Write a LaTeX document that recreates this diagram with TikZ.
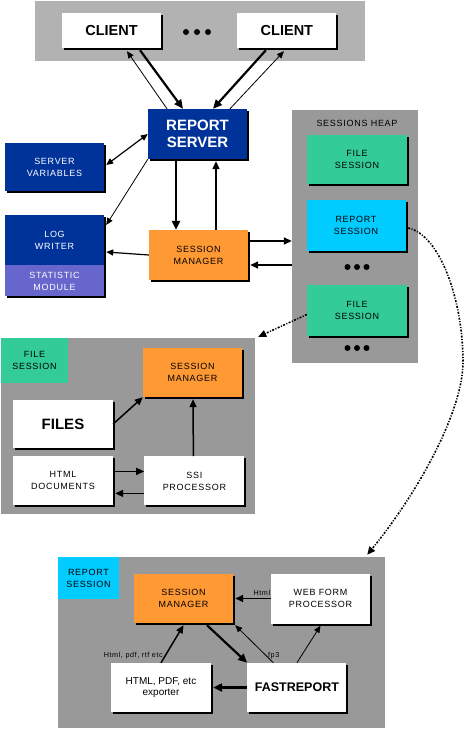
\documentclass[tikz,border=0pt]{standalone}
\usepackage{fontspec}
\setmainfont{Liberation Sans}
\newfontfamily\spacedfont[LetterSpace=8]{Liberation Sans}
\usepackage{tikz}
\usetikzlibrary{arrows.meta}
\usetikzlibrary{positioning}
\usetikzlibrary{shadows}

\definecolor{bargray}{RGB}{178,178,178}
\definecolor{heapgray}{RGB}{153,153,153}
\definecolor{srvblue}{RGB}{0,51,153}
\definecolor{mgrorange}{RGB}{255,153,51}
\definecolor{filegreen}{RGB}{51,204,153}
\definecolor{repcyan}{RGB}{0,204,255}
\definecolor{statpurple}{RGB}{102,102,204}

\tikzset{
  lblfont/.style={font=\spacedfont\fontsize{9}{12}\selectfont},
  bigfont/.style={font=\bfseries\fontsize{14.5}{16.5}\selectfont},
  smalltext/.style={font=\spacedfont\fontsize{7.2}{8}\selectfont, inner sep=2pt},
  tag/.style={lblfont, inner sep=0pt, align=center},
  box/.style={tag, minimum width=99pt, minimum height=49pt,
    drop shadow={shadow xshift=2pt, shadow yshift=-2pt, fill=black, opacity=1}},
  whitebox/.style={box, fill=white},
  bluebox/.style={box, fill=srvblue, text=white},
  panel/.style={fill=heapgray, inner sep=0pt},
  arr/.style={-{Triangle[length=7pt,width=6pt]}, line width=0.8pt},
  medium/.style={-{Triangle[length=8pt,width=7pt]}, line width=1.5pt},
  heavy/.style={-{Triangle[length=9pt,width=8pt]}, line width=2.2pt},
  dbl/.style={{Triangle[length=7pt,width=6pt]}-{Triangle[length=7pt,width=6pt]}, line width=1.2pt},
  linkdots/.style={-{Triangle[length=8pt,width=7pt]}, line width=1.6pt,
    dash pattern=on 2pt off 1.5pt on 1pt off 1.5pt}
}

\begin{document}
\begin{tikzpicture}[x=1pt,y=-1pt]
  \useasboundingbox (0,0) rectangle (465,731);

  % clients
  \node[panel, fill=bargray, minimum width=330pt, minimum height=60pt] (clients) at (200,31) {};
  \node[whitebox, bigfont, minimum height=35pt] (client1) at (111.5,30.5) {CLIENT};
  \node[whitebox, bigfont, minimum height=35pt, right=76pt of client1] (client2) {CLIENT};
  \foreach \dx in {-11,0,11} \fill (197+\dx,32) circle (3pt);

  % server side
  \node[bluebox, font=\bfseries\fontsize{15}{16.5}\selectfont, minimum height=50pt] (server) at (197.5,134) {REPORT\\SERVER};
  \node[bluebox, minimum height=48pt] (servervars) at (54.5,167) {SERVER\\VARIABLES};
  \node[bluebox, minimum height=50pt] (logwriter) at (54.5,240) {LOG\\WRITER};
  \node[box, fill=statpurple, text=white, minimum height=31pt, below=0pt of logwriter] (statmod) {STATISTIC\\MODULE};
  \node[box, fill=mgrorange, minimum height=50pt] (sessman) at (198.5,255) {SESSION\\MANAGER};

  % sessions heap
  \node[panel, minimum width=126pt, minimum height=253pt] (heap) at (355,236.5) {};
  \node[lblfont] (heaptitle) at (357,123) {SESSIONS HEAP};
  \node[box, fill=filegreen, minimum width=100pt] (fs1) at (357,159.5) {FILE\\SESSION};
  \node[box, fill=repcyan, minimum height=51pt] (rs) at (356,225.5) {REPORT\\SESSION};
  \foreach \dx in {-9.5,0,9.5} \fill (357+\dx,267) circle (3pt);
  \node[box, fill=filegreen, minimum width=100pt, minimum height=51pt] (fs2) at (357,310.5) {FILE\\SESSION};
  \foreach \dx in {-9.5,0,9.5} \fill (357+\dx,348) circle (3pt);

  \draw[arr] ([xshift=-30.5pt]server.north) -- ([xshift=15.5pt,yshift=-3pt]client1.south);
  \draw[heavy] ([xshift=28.5pt,yshift=-2pt]client1.south) -- ([xshift=-14.5pt]server.north);
  \draw[heavy] ([xshift=-21pt,yshift=-2pt]client2.south) -- ([xshift=15.5pt]server.north);
  \draw[arr] ([xshift=32.5pt]server.north) -- ([xshift=-3pt,yshift=-3pt]client2.south);
  \draw[dbl] ([xshift=2pt,yshift=2pt]servervars.east) -- (server.west);
  \draw[arr] (server.south west) -- ([xshift=2pt,yshift=15pt]logwriter.east);
  \draw[heavy] ([xshift=-21.5pt,yshift=-2pt]server.south) -- ([xshift=-22.5pt]sessman.north);
  \draw[medium] ([xshift=17.5pt]sessman.north) -- ([xshift=18.5pt,yshift=-2pt]server.south);
  \draw[arr, line width=1.2pt] (sessman.west) -- ([xshift=2pt,yshift=-12pt]logwriter.east);
  \draw[medium] ([xshift=2pt,yshift=14pt]sessman.east) -- ([yshift=14pt]sessman.east -| heap.west);
  \draw[medium] ([yshift=-10pt]sessman.east -| heap.west) -- ([xshift=2pt,yshift=-10pt]sessman.east);

  % file session
  \node[panel, minimum width=254pt, minimum height=176pt] (filepanel) at (128,426) {};
  \node[tag, fill=filegreen, minimum width=67pt, minimum height=45pt] (filelabel) at (34.5,360.5) {FILE\\SESSION};
  \node[box, fill=mgrorange] (fsm) at (192.5,372.5) {SESSION\\MANAGER};
  \node[whitebox, font=\bfseries\fontsize{15}{17}\selectfont, minimum width=100pt, minimum height=48pt] (files) at (63,424) {FILES};
  \node[whitebox, minimum width=100pt, below=8pt of files] (html) {HTML\\DOCUMENTS};
  \node[whitebox, minimum width=100pt, right=31pt of html] (ssi) {SSI\\PROCESSOR};

  \draw[medium] (files.east) -- (fsm.south west);
  \draw[medium] ([xshift=-1pt]ssi.north) -- ([xshift=0.5pt,yshift=-2pt]fsm.south);
  \draw[medium] ([yshift=9.5pt]html.east) -- ([yshift=9.5pt]ssi.west);
  \draw[medium] ([yshift=-12.5pt]ssi.west) -- ([xshift=2pt,yshift=-12.5pt]html.east);

  % report session
  \node[panel, minimum width=327pt, minimum height=171pt] (reppanel) at (221.5,642.5) {};
  \node[tag, fill=repcyan, minimum width=61pt, minimum height=42pt] (replabel) at (88.5,578) {REPORT\\SESSION};
  \node[box, fill=mgrorange] (rsm) at (183.5,598.5) {SESSION\\MANAGER};
  \node[whitebox, minimum height=50pt] (wfp) at (320.5,598.5) {WEB FORM\\PROCESSOR};
  \node[whitebox, font=\fontsize{10}{11.5}\selectfont, minimum width=100pt] (exp) at (161,687.5) {HTML, PDF, etc\\exporter};
  \node[whitebox, font=\bfseries\fontsize{12.5}{14}\selectfont, right=36pt of exp] (fr) {FASTREPORT};

  \draw[medium] (wfp.west) -- ([xshift=2pt]rsm.east) node[pos=0.25, above, smalltext] {Html};
  \draw[medium] (exp.north) -- ([yshift=-2pt]rsm.south) node[pos=0.2, left, smalltext] {Html, pdf, rtf etc};
  \draw[heavy] ([xshift=23.5pt,yshift=-2pt]rsm.south) -- (fr.north west);
  \draw[arr] ([xshift=-23.5pt]fr.north) -- ([xshift=2pt,yshift=-2pt]rsm.south east) node[pos=0.2, right, smalltext] {fp3};
  \draw[arr] (fr.north) -- ([yshift=-2pt]wfp.south);
  \draw[heavy] (fr.west) -- ([xshift=2pt]exp.east);

  % session links
  \draw[linkdots] ([xshift=2.5pt,yshift=-2.5pt]rs.east) .. controls (440,235) and (463,300) .. (463,362)
    .. controls (463,410) and (420,490) .. ([xshift=-18pt,yshift=2pt]reppanel.north east);
  \draw[linkdots] ([yshift=-4pt]fs2.west) -- ([xshift=3pt,yshift=1pt]filepanel.north east);
\end{tikzpicture}
\end{document}
